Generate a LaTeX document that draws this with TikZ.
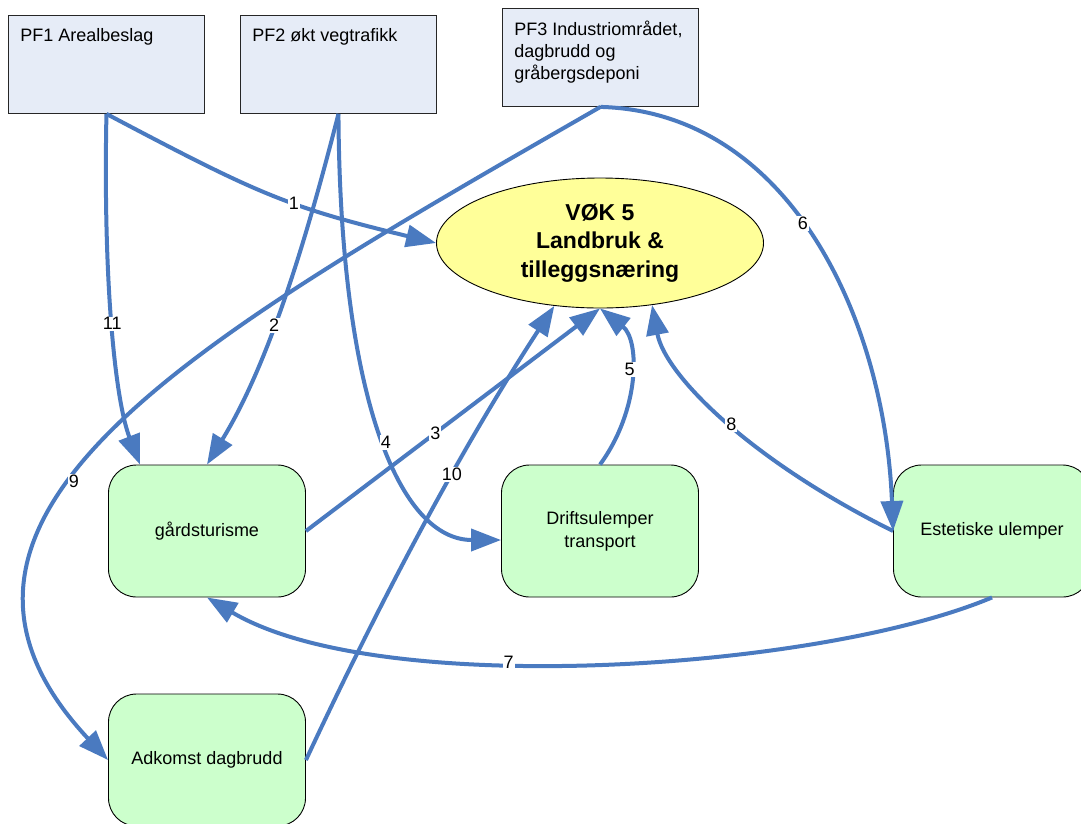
\documentclass[tikz,border=0pt]{standalone}
\usepackage{fontspec}
\setmainfont{Liberation Sans}
\usetikzlibrary{arrows.meta,shapes.geometric,calc}
\definecolor{edgeblue}{RGB}{74,122,192}
\definecolor{pffill}{RGB}{230,236,247}
\definecolor{vokfill}{RGB}{255,255,153}
\definecolor{boxgreen}{RGB}{204,255,204}
\begin{document}
\begin{tikzpicture}[x=1pt,y=-1pt,
 pfbox/.style={draw=black!85, line width=0.9pt, fill=pffill, anchor=north west, inner xsep=12pt, inner ysep=13pt, font=\fontsize{18}{22}\selectfont},
 vokell/.style={ellipse, draw, line width=0.9pt, fill=vokfill, minimum width=327pt, minimum height=130pt, inner sep=0pt, align=center, font=\bfseries\fontsize{23}{28.5}\selectfont},
 gbox/.style={draw, line width=0.9pt, fill=boxgreen, rounded corners=28pt, minimum width=197pt, minimum height=132pt, align=center, font=\fontsize{18}{23}\selectfont},
 conn/.style={draw=edgeblue, line width=4pt, -{Triangle[length=30pt,width=22pt]}},
 lbl/.style={fill=white, inner sep=1pt, text=black, font=\fontsize{18}{18}\selectfont}]
\useasboundingbox (0,0) rectangle (1081,823);
\fill[white] (0,0) rectangle (1081,823);

% nodes
\node[pfbox] (pf1) at (8,15) {\parbox[t][72pt][t]{172pt}{\raggedright PF1 Arealbeslag}};
\node[pfbox] (pf2) at (240,15) {\parbox[t][72pt][t]{172pt}{\raggedright PF2 økt vegtrafikk}};
\node[pfbox] (pf3) at (502,8) {\parbox[t][72pt][t]{172pt}{\raggedright PF3 Industriområdet,\\dagbrudd og\\gråbergsdeponi}};
\node[vokell] (vok) at (600,243) {VØK 5\\Landbruk \&\\tilleggsnæring};
\node[gbox] (gard) at (207,531) {gårdsturisme};
\node[gbox] (drift) at (600,531) {Driftsulemper\\transport};
\node[gbox] (est) at (992,531) {Estetiske ulemper};
\node[gbox] (adk) at (207,760) {Adkomst dagbrudd};

% connectors
\draw[conn] (pf1.south) .. controls (258,194) and (287,207) .. (vok.west)
  node[lbl, pos=0.58] {1};
\draw[conn] (pf1.south) .. controls (103,280) and (115,400) .. ([xshift=-67pt]gard.north)
  node[lbl, pos=0.49] {11};
\draw[conn] (pf2.south) .. controls (305,245) and (268,365) .. (gard.north)
  node[lbl, pos=0.57] {2};
\draw[conn] (pf2.south) .. controls (340,400) and (400,540) .. ([yshift=-9pt]drift.west)
  node[lbl, pos=0.52] {4};
\draw[conn] (gard.east) -- (vok.south)
  node[lbl, pos=0.44] {3};
\draw[conn] (adk.east) .. controls (376,610) and (455,458) .. (vok.234)
  node[lbl, pos=0.63] {10};
\draw[conn] (drift.north) .. controls (640,410) and (640,340) .. (vok.south)
  node[lbl, pos=0.55] {5};
\draw[conn] (est.west) .. controls (750,460) and (665,375) .. (vok.310)
  node[lbl, pos=0.47] {8};
\draw[conn] (pf3.south) .. controls (790,112) and (885,320) .. (est.west)
  node[lbl, pos=0.46] {6};
\draw[conn] (pf3.south) .. controls (200,337) and (-120,516) .. (adk.west)
  node[lbl, pos=0.585] {9};
\draw[conn] (est.south) .. controls (820,670) and (380,700) .. (gard.south)
  node[lbl, pos=0.6] {7};
\end{tikzpicture}
\end{document}
